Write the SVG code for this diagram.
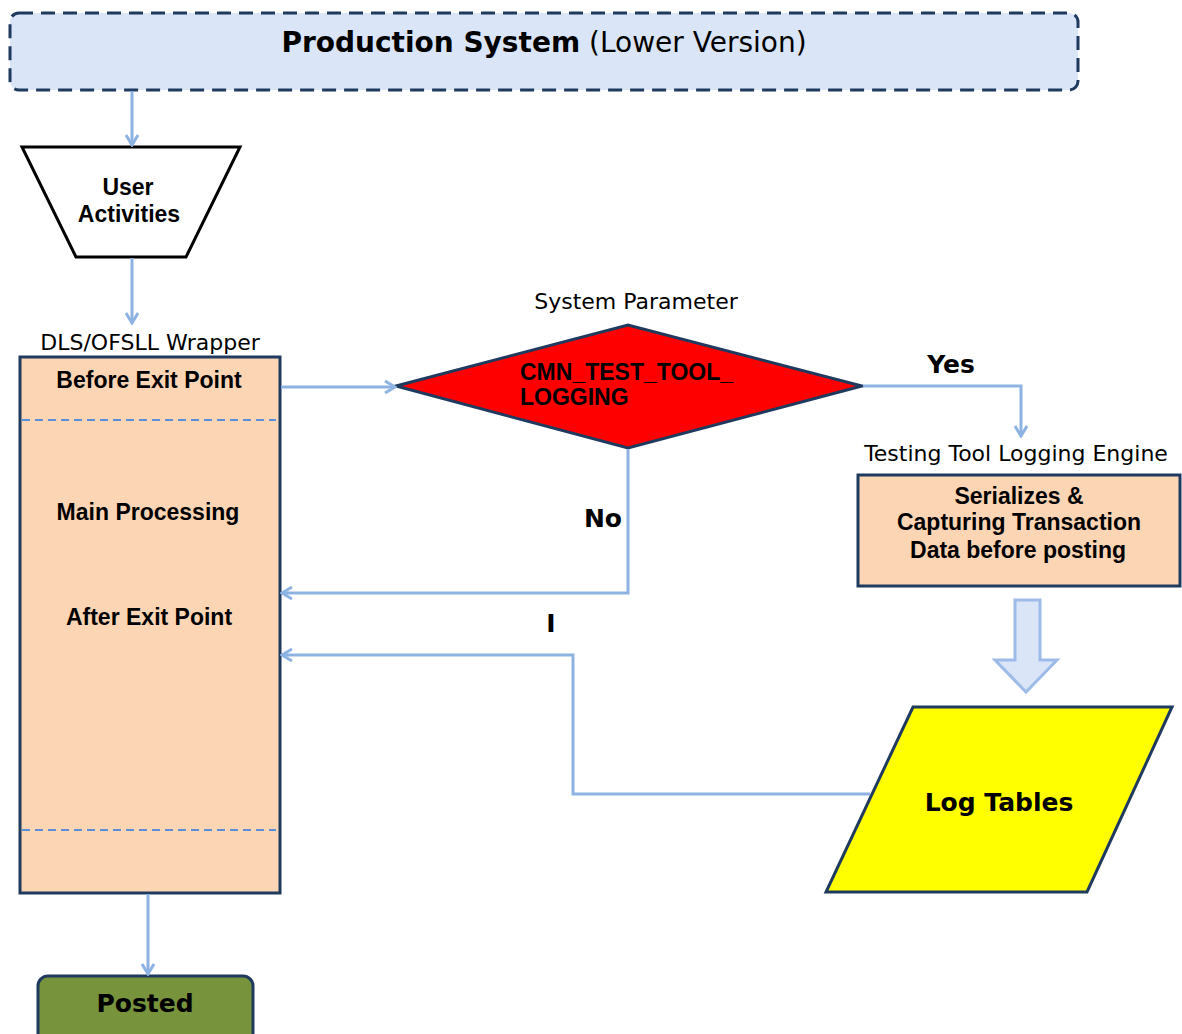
<svg xmlns="http://www.w3.org/2000/svg" width="1182" height="1034" viewBox="0 0 1182 1034">
<defs>
<style>
.conn{fill:none;stroke:#8db3e2;stroke-width:3}
.node{stroke:#1f3a5f;stroke-width:3}
.b{font-family:"Liberation Sans",Arial,sans-serif;font-weight:bold;font-size:23px;fill:#000}
.w{font-family:"DejaVu Sans","Liberation Sans",sans-serif;font-weight:bold;font-size:25px;fill:#000}
.n{font-family:"DejaVu Sans","Liberation Sans",sans-serif;font-size:22px;fill:#000}
.sep{stroke:#5b8fd9;stroke-width:2;stroke-dasharray:8 5}
</style>
<marker id="arr" markerWidth="14" markerHeight="14" refX="12" refY="7" orient="auto" markerUnits="userSpaceOnUse">
<path d="M2,1 L12,7 L2,13" fill="none" stroke="#8db3e2" stroke-width="3"/>
</marker>
</defs>
<rect width="1182" height="1034" fill="#fff"/>

<g id="production">
<rect x="10" y="13" width="1068" height="77" rx="9" fill="#dae5f7" stroke="#1f3a5f" stroke-width="3" stroke-dasharray="14 8"/>
<text x="544" y="52" text-anchor="middle" font-family="'DejaVu Sans','Liberation Sans',sans-serif" font-size="28"><tspan font-weight="bold">Production System</tspan> (Lower Version)</text>
</g>

<g id="user">
<polygon points="22,147 240,147 186,257 76,257" fill="#fff" stroke="#000" stroke-width="3"/>
<text class="b" x="128" y="195" text-anchor="middle">User</text>
<text class="b" x="129" y="222" text-anchor="middle">Activities</text>
</g>

<g id="wrapper">
<text class="n" x="150" y="350" text-anchor="middle">DLS/OFSLL Wrapper</text>
<rect x="20" y="357" width="260" height="536" fill="#fcd5b4" class="node"/>
<line x1="22" y1="420" x2="276" y2="420" class="sep"/>
<line x1="22" y1="830" x2="276" y2="830" class="sep"/>
<text class="b" x="149" y="388" text-anchor="middle">Before Exit Point</text>
<text class="b" x="148" y="520" text-anchor="middle">Main Processing</text>
<text class="b" x="149" y="625" text-anchor="middle">After Exit Point</text>
</g>

<g id="decision">
<text class="n" x="636" y="309" text-anchor="middle">System Parameter</text>
<polygon points="396,386 628,325 862,386 628,448" fill="#ff0000" class="node"/>
<text class="b" x="520" y="380" font-size="22.5">CMN_TEST_TOOL_</text>
<text class="b" x="520" y="405" font-size="22.5">LOGGING</text>
</g>

<g id="engine">
<text class="n" x="1016" y="461" text-anchor="middle">Testing Tool Logging Engine</text>
<rect x="858" y="475" width="322" height="111" fill="#fcd5b4" class="node"/>
<text class="b" x="1019" y="504" text-anchor="middle">Serializes &amp;</text>
<text class="b" x="1019" y="530" text-anchor="middle">Capturing Transaction</text>
<text class="b" x="1018" y="558" text-anchor="middle">Data before posting</text>
</g>

<g id="logtables">
<polygon points="913,707 1172,707 1087,892 826,892" fill="#ffff00" class="node"/>
<text class="w" x="999" y="811" text-anchor="middle">Log Tables</text>
</g>

<g id="posted">
<rect x="38" y="976" width="215" height="70" rx="10" fill="#77933c" class="node"/>
<text class="w" x="145" y="1012" text-anchor="middle">Posted</text>
</g>

<g id="connectors">
<line x1="132" y1="91" x2="132" y2="145" class="conn" marker-end="url(#arr)"/>
<line x1="132" y1="258" x2="132" y2="323" class="conn" marker-end="url(#arr)"/>
<line x1="281" y1="387" x2="395" y2="387" class="conn" marker-end="url(#arr)"/>
<polyline points="863,386 1021,386 1021,436" class="conn" marker-end="url(#arr)"/>
<polyline points="628,449 628,593 282,593" class="conn" marker-end="url(#arr)"/>
<polyline points="870,794 573,794 573,655 282,655" class="conn" marker-end="url(#arr)"/>
<line x1="148" y1="894" x2="148" y2="974" class="conn" marker-end="url(#arr)"/>
<polygon points="1015,600 1040,600 1040,660 1057,660 1026,692 995,660 1015,660" fill="#dae5f7" stroke="#9dbbe8" stroke-width="3"/>
<text class="w" x="951" y="373" text-anchor="middle">Yes</text>
<text class="w" x="603" y="527" text-anchor="middle">No</text>
<text class="w" x="551" y="632" text-anchor="middle">I</text>
</g>
</svg>
